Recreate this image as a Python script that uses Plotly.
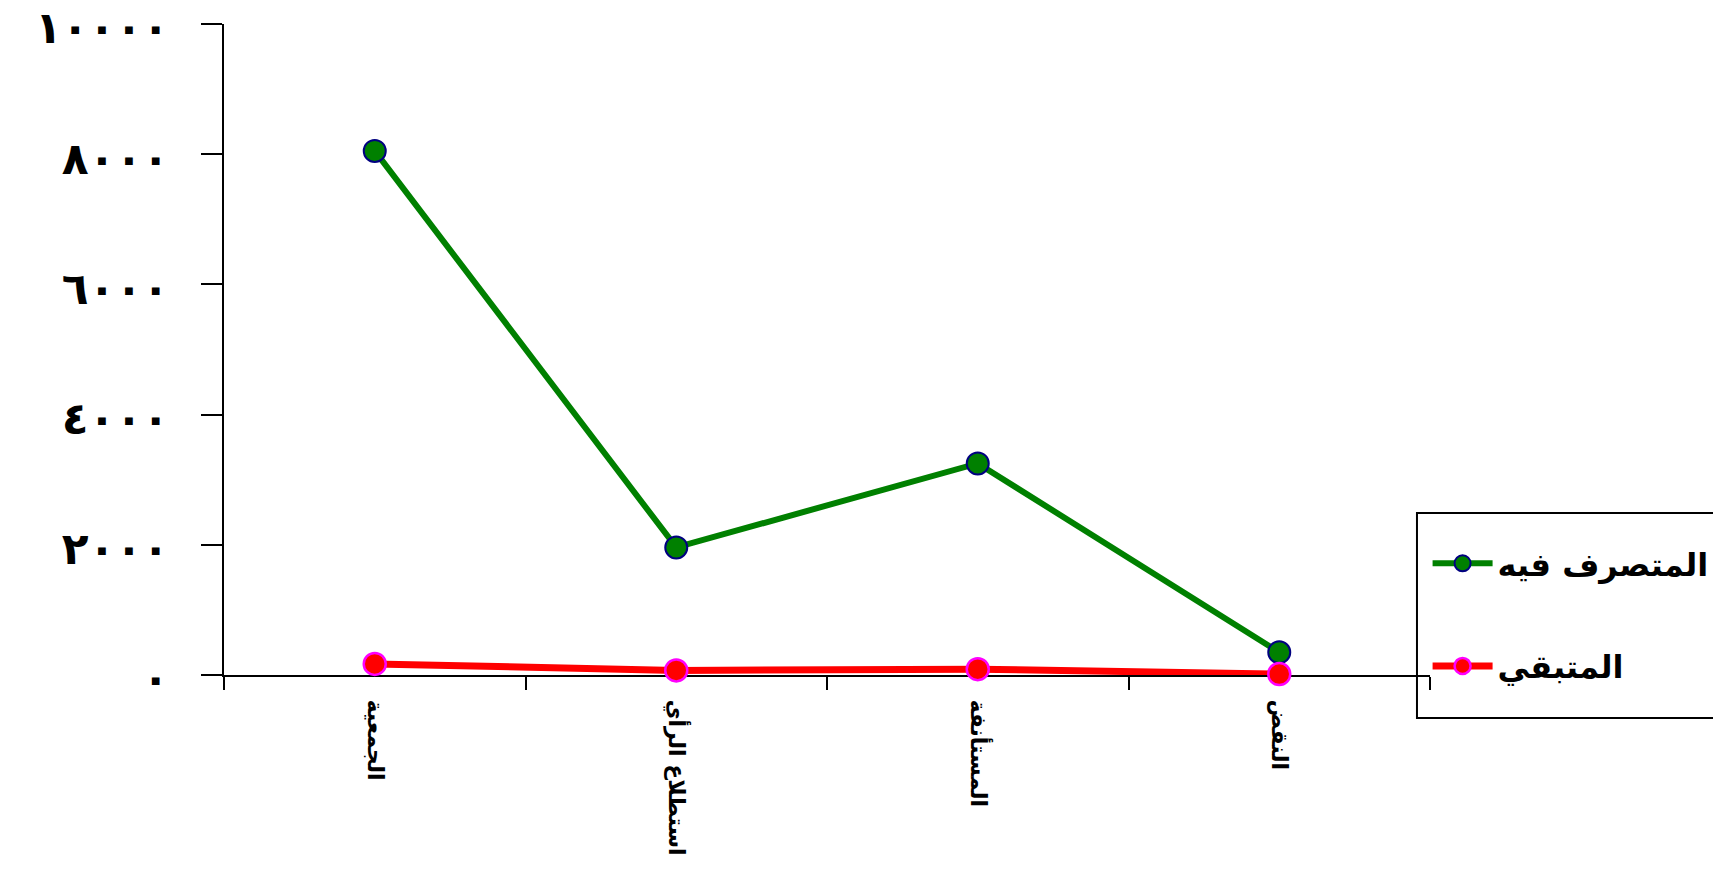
import plotly.graph_objects as go

categories = ["الجمعية", "استطلاع الرأي", "المستأنفة", "النقض"]
disposed = [8050, 1960, 3250, 350]
remaining = [170, 70, 90, 15]
series_names = ["المتصرف فيه", "المتبقي"]
y_tickvals = [0, 2000, 4000, 6000, 8000, 10000]
y_ticktext = ["٠", "٢٠٠٠", "٤٠٠٠", "٦٠٠٠", "٨٠٠٠", "١٠٠٠٠"]

AR_FONT = "DejaVu Sans"

fig = go.Figure()
fig.add_trace(go.Scatter(
    x=categories, y=disposed, name=series_names[0], mode="lines+markers",
    line=dict(color="#008000", width=6),
    marker=dict(size=22, color="#008000", line=dict(color="#000080", width=2)),
    cliponaxis=False, legendgroup="a",
))
fig.add_trace(go.Scatter(
    x=categories, y=remaining, name=series_names[1], mode="lines+markers",
    line=dict(color="#ff0000", width=7),
    marker=dict(size=22, color="#ff0000", line=dict(color="#ff00ff", width=2.5)),
    cliponaxis=False, legendgroup="b",
))

# legend frame (drawn as a shape so it can be taller than the items need)
fig.add_shape(type="rect", xref="paper", yref="paper",
              x0=0.9892, x1=1.26, y0=-0.066, y1=0.2488,
              line=dict(color="black", width=2), fillcolor="rgba(0,0,0,0)",
              layer="below")

fig.update_layout(
    width=1713, height=873,
    paper_bgcolor="white", plot_bgcolor="white",
    margin=dict(l=224, r=283, t=24, b=198, autoexpand=False),
    font=dict(family=AR_FONT, color="black"),
    showlegend=True,
    legend=dict(
        x=0.998, y=0.2135, xanchor="left", yanchor="top",
        borderwidth=0, bgcolor="rgba(0,0,0,0)",
        font=dict(size=32, family=AR_FONT, color="black", weight="bold"),
        tracegroupgap=58, itemwidth=60, traceorder="grouped",
    ),
    xaxis=dict(
        type="category", range=[-0.5, 3.5],
        showline=True, linecolor="black", linewidth=2,
        ticks="outside", ticklen=13, tickwidth=2, tickcolor="black",
        tickson="boundaries", tickangle=90,
        tickfont=dict(size=22, family=AR_FONT, color="black", weight="bold"),
        ticklabelstandoff=18,
        showgrid=False, zeroline=False, layer="below traces",
    ),
    yaxis=dict(
        range=[0, 10000],
        tickvals=y_tickvals, ticktext=y_ticktext,
        showline=True, linecolor="black", linewidth=2,
        ticks="outside", ticklen=21, tickwidth=2, tickcolor="black",
        tickfont=dict(size=44, family=AR_FONT, color="black", weight="bold"),
        ticklabelstandoff=23, ticklabelshift=4, ticklabeloverflow="allow",
        showgrid=False, zeroline=False, layer="below traces",
    ),
)

fig.write_html("out.html", config={"displayModeBar": False},
               post_script="document.body.style.margin='0';document.body.style.padding='0';")
